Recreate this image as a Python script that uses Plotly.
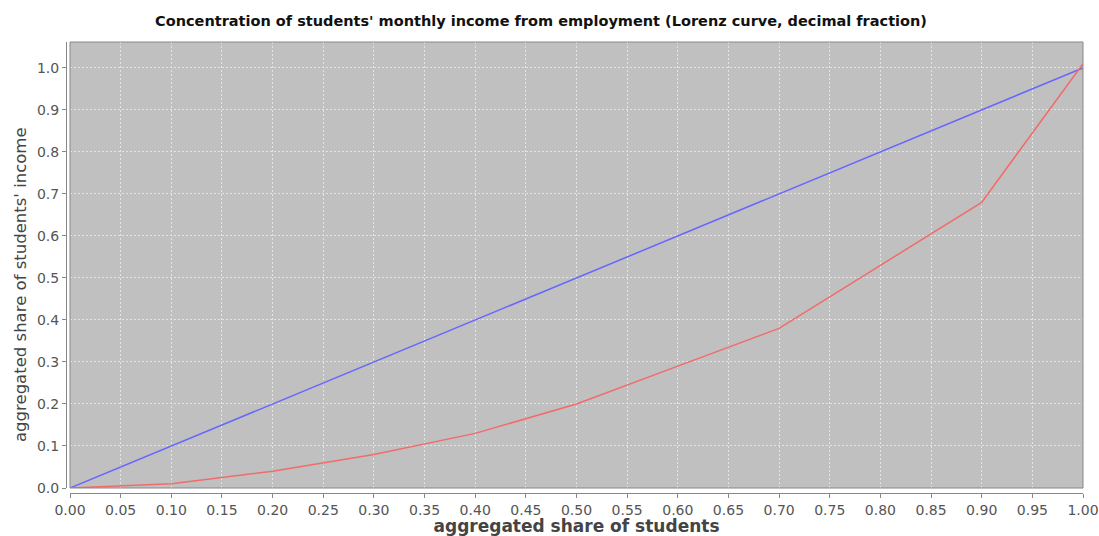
import plotly.graph_objects as go

share_students = [0.0, 0.1, 0.2, 0.3, 0.4, 0.5, 0.6, 0.7, 0.8, 0.9, 1.0]
equality_line = [0.0, 0.1, 0.2, 0.3, 0.4, 0.5, 0.6, 0.7, 0.8, 0.9, 1.0]
lorenz_curve = [0.0, 0.01, 0.04, 0.08, 0.13, 0.20, 0.29, 0.38, 0.53, 0.68, 1.01]

W, H = 1099, 536
ml, mr, mt, mb = 66, 16, 42, 43
pw = W - ml - mr
ph = H - mt - mb

fig = go.Figure()
fig.add_trace(go.Scatter(x=share_students, y=equality_line, mode="lines",
                         line=dict(color="#6666ff", width=1.5), showlegend=False))
fig.add_trace(go.Scatter(x=share_students, y=lorenz_curve, mode="lines",
                         line=dict(color="#f26b6b", width=1.5), showlegend=False))

grid = dict(showgrid=True, gridcolor="#e4e4e4", gridwidth=1, griddash="2px,2px", zeroline=False)
tickfont = dict(family="DejaVu Sans", size=14, color="#555555")

fig.update_layout(
    width=W, height=H,
    margin=dict(l=ml, r=mr, t=mt, b=mb, autoexpand=False),
    paper_bgcolor="white",
    plot_bgcolor="#c0c0c0",
    title=dict(text="<b>Concentration of students' monthly income from employment (Lorenz curve, decimal fraction)</b>",
               x=541 / W, xanchor="center", xref="container",
               y=1 - 21 / H, yanchor="middle", yref="container",
               font=dict(family="DejaVu Sans", size=14.5, color="#111111"),
               automargin=False),
    xaxis=dict(range=[0, 1], domain=[4 / pw, 1], anchor="free", position=0,
               automargin=False,
               tickmode="linear", tick0=0, dtick=0.05, tickformat=".2f",
               showline=True, linecolor="#888888", linewidth=1,
               ticks="outside", ticklen=4, tickcolor="#888888",
               tickfont=tickfont,
               title=dict(text="<b>aggregated share of students</b>",
                          font=dict(family="DejaVu Sans", size=17, color="#444444"), standoff=5),
               **grid),
    yaxis=dict(range=[0, 1.0616], domain=[5 / ph, 1], anchor="free", position=0,
               automargin=False,
               tickmode="linear", tick0=0, dtick=0.1, tickformat=".1f",
               showline=True, linecolor="#888888", linewidth=1,
               ticks="outside", ticklen=4, tickcolor="#888888",
               tickfont=tickfont,
               **grid),
    annotations=[dict(text="aggregated share of students' income", textangle=-90,
                      xref="paper", yref="paper", x=(20 - ml) / pw, y=(H - mb - 285) / ph,
                      xanchor="center", yanchor="middle", showarrow=False,
                      font=dict(family="DejaVu Sans", size=16.5, color="#444444"))],
    shapes=[dict(type="rect", xref="x domain", yref="y domain", x0=0, x1=1, y0=0, y1=1,
                 line=dict(color="#888888", width=1), fillcolor="rgba(0,0,0,0)", layer="above")],
)

fig.write_html("out.html", config={"displayModeBar": False},
               post_script="document.body.style.margin='0';document.body.style.padding='0';document.body.style.overflow='hidden';")
